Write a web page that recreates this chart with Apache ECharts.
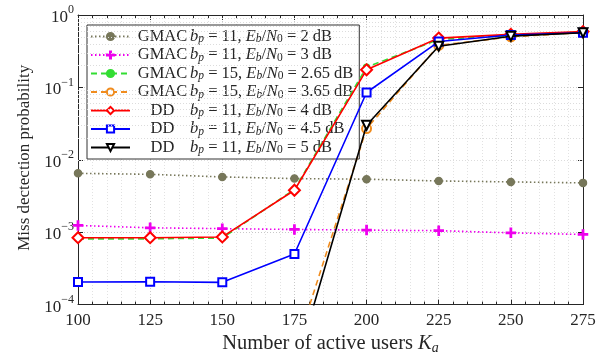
<!DOCTYPE html>
<html><head><meta charset="utf-8">
<script src="https://cdn.jsdelivr.net/npm/echarts@6/dist/echarts.min.js"></script>
<style>html,body{margin:0;padding:0;background:#fff}#c{width:611px;height:360px}</style>
</head><body><div id="c"></div>
<script>
// ---- data ----
const Ka = [100, 125, 150, 175, 200, 225, 250, 275];
const gmacBp11Eb2   = [6.5e-3, 6.3e-3, 5.8e-3, 5.5e-3, 5.4e-3, 5.1e-3, 4.95e-3, 4.8e-3];
const gmacBp11Eb3   = [1.24e-3, 1.15e-3, 1.12e-3, 1.09e-3, 1.07e-3, 1.05e-3, 0.98e-3, 0.93e-3];
const gmacBp15Eb265 = [8.1e-4, 8.1e-4, 8.3e-4, 3.9e-3, 0.19, 0.46, 0.52, 0.57];
const gmacBp15Eb365 = [null, null, null, 2.2e-5, 0.027, 0.38, 0.50, 0.57];
const ddBp11Eb4     = [8.4e-4, 8.4e-4, 8.6e-4, 3.8e-3, 0.175, 0.48, 0.54, 0.59];
const ddBp11Eb45    = [2.05e-4, 2.07e-4, 2.03e-4, 5.0e-4, 0.085, 0.43, 0.53, 0.57];
const ddBp11Eb5     = [null, null, null, 1.2e-5, 0.030, 0.37, 0.51, 0.57];

const legendMethod = ['GMAC', 'GMAC', 'GMAC', 'GMAC', 'DD', 'DD', 'DD'];
const legendBp     = ['11', '11', '15', '15', '11', '11', '11'];
const legendEbN0   = ['2', '3', '2.65', '3.65', '4', '4.5', '5'];
const xTicks = [100, 125, 150, 175, 200, 225, 250, 275];
const yDecades = [1e-4, 1e-3, 1e-2, 1e-1, 1];

// ---- styles ----
const FONT = 'Liberation Serif';
const TXT = '#262626';
const seriesData = [gmacBp11Eb2, gmacBp11Eb3, gmacBp15Eb265, gmacBp15Eb365, ddBp11Eb4, ddBp11Eb45, ddBp11Eb5];
const plusPath = 'path://M4.3,0 H5.7 V4.3 H10 V5.7 H5.7 V10 H4.3 V5.7 H0 V4.3 H4.3 Z';
const styles = [
  {color: '#77775a', type: [1.5, 2.5], symbol: 'circle', size: 7},
  {color: '#ee00ee', type: [1.5, 2.5], symbol: plusPath, size: 9},
  {color: '#33dd33', type: [6, 4], symbol: 'circle', size: 6},
  {color: '#f08c1e', type: [6, 4], symbol: 'emptyCircle', size: 9},
  {color: '#ff0000', type: 'solid', symbol: 'emptyDiamond', size: 11},
  {color: '#0000ff', type: 'solid', symbol: 'emptyRect', size: 8},
  {color: '#000000', type: 'solid', symbol: 'emptyTriangle', size: 9, rotate: 180}
];

const names = legendMethod.map((m, i) => m + '|' + legendBp[i] + '|' + legendEbN0[i]);

// minor log gridlines (2..9 within each decade)
const minorY = [];
for (let d = 0; d < yDecades.length - 1; d++) {
  for (let m = 2; m <= 9; m++) minorY.push({yAxis: yDecades[d] * m});
}

const series = seriesData.map((arr, i) => {
  const st = styles[i];
  const s = {
    name: names[i],
    type: 'line',
    data: Ka.map((k, j) => [k, arr[j]]),
    symbol: st.symbol,
    symbolSize: st.size,
    symbolRotate: st.rotate || 0,
    showAllSymbol: true,
    connectNulls: false,
    clip: true,
    z: 10 + i,
    lineStyle: {color: st.color, width: 1.6, type: st.type},
    itemStyle: {color: st.color, borderColor: st.color, borderWidth: 1.5},
    emphasis: {disabled: true},
    animation: false
  };
  if (i === 0) {
    s.markLine = {
      silent: true, symbol: 'none', animation: false,
      label: {show: false},
      lineStyle: {color: '#dcdcdc', type: [1, 2], width: 1},
      data: minorY
    };
  }
  return s;
});

const LF = 16.5;
const legendRich = {
  m: {fontFamily: FONT, fontSize: LF, color: TXT, width: 55, align: 'center', lineHeight: 17},
  n: {fontFamily: FONT, fontSize: LF, color: TXT, lineHeight: 17},
  i: {fontFamily: FONT, fontSize: LF, fontStyle: 'italic', color: TXT, lineHeight: 17},
  s: {fontFamily: FONT, fontSize: 11.5, fontStyle: 'italic', color: TXT, lineHeight: 11, verticalAlign: 'bottom'},
  z: {fontFamily: FONT, fontSize: 11.5, color: TXT, lineHeight: 11, verticalAlign: 'bottom'}
};

const chart = echarts.init(document.getElementById('c'), null, {renderer: 'canvas'});
chart.setOption({
  animation: false,
  backgroundColor: '#fff',
  grid: {left: 78, right: 28, top: 15, bottom: 52, containLabel: false},
  legend: {
    orient: 'vertical', left: 87, top: 25,
    itemWidth: 39, itemHeight: 9, itemGap: 1.5,
    padding: [3, 6, 3, 3],
    backgroundColor: '#fff', borderColor: '#333', borderWidth: 1,
    data: names,
    selectedMode: false,
    textStyle: {fontFamily: FONT, fontSize: LF, color: TXT, rich: legendRich},
    formatter: name => {
      const p = name.split('|');
      return '{m|' + p[0] + '}{i|b}{s|p}{n| = ' + p[1] + ', }{i|E}{s|b}{n|/}{i|N}{z|0}{n| = ' + p[2] + ' dB}';
    }
  },
  xAxis: [{
    type: 'value', min: 100, max: 275, interval: 25,
    name: 'Number of active users {i|K}{s|a}',
    nameLocation: 'middle', nameGap: 27,
    nameTextStyle: {fontFamily: FONT, fontSize: 20.5, color: TXT, rich: {
      i: {fontFamily: FONT, fontSize: 20.5, fontStyle: 'italic', color: TXT, lineHeight: 22},
      s: {fontFamily: FONT, fontSize: 14, fontStyle: 'italic', color: TXT, lineHeight: 13, verticalAlign: 'bottom'}
    }},
    axisLine: {show: true, onZero: false, lineStyle: {color: TXT, width: 1}},
    axisTick: {show: true, inside: true, length: 5, lineStyle: {color: TXT}},
    minorTick: {show: true, splitNumber: 5, length: 3, lineStyle: {color: TXT}},
    axisLabel: {fontFamily: FONT, fontSize: 17, color: TXT, margin: 7,
      customValues: xTicks},
    splitLine: {show: true, lineStyle: {color: '#c8c8c8', type: [1, 2]}},
    minorSplitLine: {show: true, lineStyle: {color: '#e2e2e2', type: [1, 2]}}
  }, {
    type: 'value', min: 100, max: 275, interval: 25, position: 'top',
    axisLine: {show: true, onZero: false, lineStyle: {color: TXT, width: 1}},
    axisTick: {show: true, inside: true, length: 5, lineStyle: {color: TXT}},
    minorTick: {show: true, splitNumber: 5, length: 3, lineStyle: {color: TXT}},
    axisLabel: {show: false}, splitLine: {show: false}
  }],
  yAxis: [{
    type: 'log', logBase: 10, min: 1e-4, max: 1,
    name: 'Miss dectection probability',
    nameLocation: 'middle', nameGap: 45,
    nameTextStyle: {fontFamily: FONT, fontSize: 17, color: TXT, padding: [0, 0, 0, 4]},
    axisLine: {show: true, onZero: false, lineStyle: {color: TXT, width: 1}},
    axisTick: {show: true, inside: true, length: 5, lineStyle: {color: TXT}},
    axisLabel: {
      margin: 4, color: TXT,
      formatter: v => {
        const e = Math.round(Math.log10(v));
        return '{b|10}{s|' + (e < 0 ? '\u2212' + (-e) : e) + '}';
      },
      rich: {
        b: {fontFamily: FONT, fontSize: 17, color: TXT, lineHeight: 22, verticalAlign: 'bottom'},
        s: {fontFamily: FONT, fontSize: 12, color: TXT, lineHeight: 12, verticalAlign: 'top'}
      }
    },
    splitLine: {show: true, lineStyle: {color: '#c8c8c8', type: [1, 2]}}
  }, {
    type: 'log', logBase: 10, min: 1e-4, max: 1, position: 'right',
    axisLine: {show: true, onZero: false, lineStyle: {color: TXT, width: 1}},
    axisTick: {show: true, inside: true, length: 5, lineStyle: {color: TXT}},
    axisLabel: {show: false}, splitLine: {show: false}
  }],
  series: series
});
</script></body></html>
